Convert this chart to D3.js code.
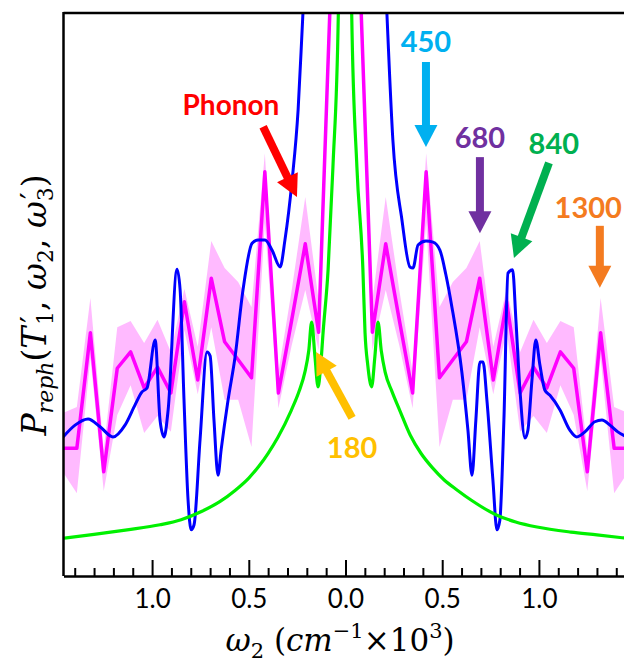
<!DOCTYPE html>
<html>
<head>
<meta charset="utf-8">
<script src="https://cdn.jsdelivr.net/npm/d3@7/dist/d3.min.js"></script>
<style>
  html, body { margin: 0; padding: 0; background: #fff; }
  svg { display: block; }
</style>
</head>
<body>
<svg id="chart" width="624" height="666"></svg>
<script>
// Frequency grid (ω2, units of 10^3 cm^-1) for the sampled rephasing spectrum
const omegaGrid = [-1.458, -1.389, -1.319, -1.250, -1.180, -1.111, -1.041, -0.972, -0.903, -0.833,
  -0.764, -0.694, -0.625, -0.555, -0.486, -0.417, -0.347, -0.278, -0.208, -0.139, -0.069, 0,
  0.069, 0.139, 0.208, 0.278, 0.347, 0.417, 0.486, 0.555, 0.625, 0.694, 0.764, 0.833, 0.903,
  0.972, 1.041, 1.111, 1.180, 1.250, 1.319, 1.389, 1.458];

// Mean rephasing signal (magenta) and its spread (shaded band)
const meanSignal = [22.7, 22.7, 43.2, 18.5, 36.9, 39.8, 33.4, 37.1, 32.5, 48.7, 34.8, 52.9, 41.6,
  38.4, 35.2, 71.8, 32.5, 45.5, 59.0, 43.3, 112, 150, 112, 43.3, 59.0, 45.5, 32.5, 71.8, 35.2, 38.4,
  41.6, 52.9, 34.8, 48.7, 32.5, 37.1, 33.4, 39.8, 36.9, 18.5, 43.2, 22.7, 22.7];
const bandUpper = [29.0, 30.0, 49.4, 22.4, 44.2, 45.3, 41.4, 45.5, 39.8, 51.0, 40.7, 59.5, 54.7,
  52.2, 47.8, 75.1, 36.2, 50.8, 67.3, 49.0, 118, 156, 118, 49.0, 67.3, 50.8, 36.2, 75.1, 47.8, 52.2,
  54.7, 59.5, 40.7, 51.0, 39.8, 45.5, 41.4, 45.3, 44.2, 22.4, 49.4, 30.0, 29.0];
const bandLower = [18.3, 14.7, 38.7, 15.1, 28.6, 33.9, 25.4, 28.4, 25.6, 43.7, 32.3, 44.2, 31.3,
  31.3, 22.9, 62.7, 29.8, 41.0, 50.8, 40.1, 106, 144, 106, 40.1, 50.8, 41.0, 29.8, 62.7, 22.9, 31.3,
  31.3, 44.2, 32.3, 43.7, 25.6, 28.4, 25.4, 33.9, 28.6, 15.1, 38.7, 14.7, 18.3];

// Blue spectrum: frequencies and amplitudes
const blueOmega = [-1.460, -1.398, -1.331, -1.269, -1.202, -1.140, -1.088, -1.052, -1.026, -0.984,
  -0.959, -0.938, -0.917, -0.871, -0.855, -0.835, -0.814, -0.798, -0.783, -0.752, -0.716, -0.700,
  -0.680, -0.659, -0.643, -0.607, -0.571, -0.530, -0.483, -0.452, -0.416, -0.380, -0.338, -0.313,
  -0.276, -0.245, -0.220, -0.194, 0,
  0.194, 0.214, 0.245, 0.292, 0.333, 0.349, 0.375, 0.416, 0.452, 0.488, 0.519, 0.550, 0.602, 0.633,
  0.654, 0.674, 0.695, 0.711, 0.731, 0.762, 0.783, 0.798, 0.819, 0.840, 0.864, 0.881, 0.902, 0.928,
  0.943, 0.964, 0.984, 1.005, 1.031, 1.057, 1.109, 1.160, 1.196, 1.238, 1.289, 1.326, 1.367, 1.408,
  1.455];
const blueValue = [24.7, 26.8, 27.9, 26.5, 24.7, 26.8, 30.4, 32.7, 33.4, 41.9,
  27.7, 24.7, 29.5, 54.5, 50.8, 31.3, 13.5, 8.2, 9.1, 24.2, 39.8, 39.1,
  27.7, 17.9, 22.4, 31.3, 38.9, 50.8, 59.1, 59.7, 59.7, 57.9, 54.9, 59.7,
  70.3, 82.8, 100, 116.5, 260,
  116.5, 100, 77.4, 63.2, 54.9, 54.7, 58.8, 59.5, 59.3, 57.9, 53.5, 47.8, 36.1, 25.9,
  17.9, 27.7, 38.0, 38.0, 31.3, 17.1, 8.2, 9.9, 27.7, 53.8, 54.4, 45.5, 33.0, 24.5,
  25.9, 34.8, 41.9, 37.5, 33.0, 32.1, 29.5, 25.9, 24.7, 25.6, 27.4, 27.7, 26.8, 25.6,
  24.7];

// Green spectrum: frequencies and amplitudes
const greenOmega = [-1.460, -1.300, -1.129, -0.959, -0.850, -0.742, -0.650, -0.571, -0.500, -0.450,
  -0.400, -0.350, -0.282, -0.240, -0.210, -0.190, -0.175, -0.158, -0.142, -0.128, -0.116, -0.090,
  -0.065, -0.037, 0,
  0.032, 0.059, 0.090, 0.101, 0.115, 0.135, 0.152, 0.168, 0.185, 0.205, 0.240, 0.282, 0.335, 0.390,
  0.450, 0.509, 0.580, 0.649, 0.783, 0.880, 0.990, 1.165, 1.300, 1.455];
const greenValue = [6.7, 7.4, 8.2, 9.1, 10.0, 11.5, 13.2, 15.2, 17.4, 19.4,
  21.8, 24.6, 29.3, 32.8, 36.2, 40.0, 45.1, 39.0, 33.6, 37.5, 43.2, 54.4,
  72.6, 100, 400,
  100, 72.6, 54.4, 43.2, 37.5, 33.6, 39.0, 45.1, 40.0, 36.2, 32.8, 29.3, 25.0, 21.8,
  19.2, 17.1, 15.2, 13.5, 10.8, 9.6, 8.7, 7.8, 7.3, 6.7];

// Axis ticks
const majorTicks = [-1.0, -0.5, 0.0, 0.5, 1.0];
const minorTicks = [-1.4, -1.3, -1.2, -1.1, -0.9, -0.8, -0.7, -0.6, -0.4, -0.3, -0.2, -0.1,
  0.1, 0.2, 0.3, 0.4, 0.6, 0.7, 0.8, 0.9, 1.1, 1.2, 1.3, 1.4];

// Peak annotations: label, colour, label anchor, arrow tail and tip (data units)
const annotations = [
  { label: "Phonon", color: "#ff0000", text: [-0.592, 81.9], tail: [-0.426, 79.8], tip: [-0.251, 67.3] },
  { label: "450", color: "#00b0f0", text: [0.416, 93.1], tail: [0.416, 91.3], tip: [0.416, 76.2] },
  { label: "680", color: "#7030a0", text: [0.695, 76.0], tail: [0.695, 74.4], tip: [0.695, 60.9] },
  { label: "840", color: "#00b050", text: [1.077, 74.9], tail: [1.052, 73.4], tip: [0.871, 56.5] },
  { label: "1300", color: "#f47b20", text: [1.255, 63.6], tail: [1.315, 62.2], tip: [1.315, 51.2] },
  { label: "180", color: "#ffc000", text: [0.034, 21.0], tail: [0.034, 28.1], tip: [-0.152, 39.8] }
];

const svg = d3.select("#chart");
const plotLeft = 63.5, plotRight = 627.5, plotTop = 13, plotBottom = 576;

const x = d3.scaleLinear().domain([-1.458, 1.458]).range([plotLeft, plotRight]);
const y = d3.scaleLinear().domain([0, 100]).range([plotBottom, plotTop]);

svg.append("defs").append("clipPath").attr("id", "plot-clip")
  .append("rect").attr("x", plotLeft).attr("y", plotTop)
  .attr("width", plotRight - plotLeft).attr("height", plotBottom - plotTop);

const plot = svg.append("g").attr("clip-path", "url(#plot-clip)");

// Spread band
const band = d3.area()
  .x((d, i) => x(omegaGrid[i]))
  .y0((d, i) => y(bandLower[i]))
  .y1((d, i) => y(bandUpper[i]));
plot.append("path").datum(omegaGrid).attr("d", band)
  .attr("fill", "#ff00ff").attr("fill-opacity", 0.27).attr("stroke", "none");

// Mean signal
plot.append("path").datum(omegaGrid)
  .attr("d", d3.line().x((d, i) => x(d)).y((d, i) => y(meanSignal[i])))
  .attr("fill", "none").attr("stroke", "#ff00ff").attr("stroke-width", 3.5)
  .attr("stroke-linejoin", "round");

// Blue spectrum
plot.append("path").datum(blueOmega)
  .attr("d", d3.line().curve(d3.curveMonotoneX).x(d => x(d)).y((d, i) => y(blueValue[i])))
  .attr("fill", "none").attr("stroke", "#0000ff").attr("stroke-width", 3)
  .attr("stroke-linejoin", "round");

// Green spectrum
plot.append("path").datum(greenOmega)
  .attr("d", d3.line().curve(d3.curveMonotoneX).x(d => x(d)).y((d, i) => y(greenValue[i])))
  .attr("fill", "none").attr("stroke", "#00f000").attr("stroke-width", 3.2)
  .attr("stroke-linejoin", "round");

// Frame: left and top borders
svg.append("line").attr("x1", plotLeft).attr("x2", plotLeft).attr("y1", plotTop - 1).attr("y2", plotBottom)
  .attr("stroke", "#000").attr("stroke-width", 2.5);
svg.append("line").attr("x1", plotLeft).attr("x2", 624).attr("y1", plotTop).attr("y2", plotTop)
  .attr("stroke", "#000").attr("stroke-width", 2.5);

// Bottom axis with inward major and minor ticks
const axisMajor = d3.axisBottom(x).tickValues(majorTicks).tickSize(-16).tickSizeOuter(0)
  .tickFormat(d => Math.abs(d).toFixed(1));
const gx = svg.append("g").attr("transform", `translate(0,${plotBottom})`).call(axisMajor);
gx.select(".domain").attr("stroke", "#000").attr("stroke-width", 2.5);
gx.selectAll(".tick line").attr("stroke", "#000").attr("stroke-width", 2);
gx.selectAll(".tick text")
  .attr("y", 32).attr("dy", 0)
  .attr("font-family", "Lato, 'Open Sans', sans-serif").attr("font-size", 26).attr("fill", "#000");

const axisMinor = d3.axisBottom(x).tickValues(minorTicks).tickSize(-8).tickSizeOuter(0)
  .tickFormat("");
const gm = svg.append("g").attr("transform", `translate(0,${plotBottom})`).call(axisMinor);
gm.select(".domain").remove();
gm.selectAll(".tick line").attr("stroke", "#000").attr("stroke-width", 2);

// Peak annotations
function drawArrow(g, tail, tip, color) {
  const x0 = x(tail[0]), y0 = y(tail[1]), x1 = x(tip[0]), y1 = y(tip[1]);
  const dx = x1 - x0, dy = y1 - y0, len = Math.hypot(dx, dy);
  const ux = dx / len, uy = dy / len, nx = -uy, ny = ux;
  const headL = 22, headW = 23;
  const bx = x1 - ux * headL, by = y1 - uy * headL;
  g.append("line").attr("x1", x0).attr("y1", y0).attr("x2", bx + ux * 2).attr("y2", by + uy * 2)
    .attr("stroke", color).attr("stroke-width", 8);
  g.append("polygon")
    .attr("points", [[x1, y1], [bx + nx * headW / 2, by + ny * headW / 2], [bx - nx * headW / 2, by - ny * headW / 2]]
      .map(p => p.join(",")).join(" "))
    .attr("fill", color);
}

const ann = svg.append("g");
annotations.forEach(a => {
  drawArrow(ann, a.tail, a.tip, a.color);
  ann.append("text")
    .attr("x", x(a.text[0])).attr("y", y(a.text[1]))
    .attr("text-anchor", "middle")
    .attr("font-family", "Lato, 'Open Sans', sans-serif").attr("font-weight", 700)
    .attr("font-size", a.label === "Phonon" ? 28 : 29)
    .attr("fill", a.color).text(a.label);
});

// Axis titles
const mathFont = "'DejaVu Serif', 'Liberation Serif', serif";

const xt = svg.append("text").attr("x", 340).attr("y", 651).attr("text-anchor", "middle")
  .attr("font-family", mathFont).attr("font-size", 31).attr("fill", "#000");
xt.append("tspan").attr("font-style", "italic").text("ω");
xt.append("tspan").attr("font-size", 21).attr("dy", 7).text("2");
xt.append("tspan").attr("dy", -7).text(" (");
xt.append("tspan").attr("font-style", "italic").text("cm");
xt.append("tspan").attr("font-size", 21).attr("dy", -13).text("−1");
xt.append("tspan").attr("dy", 13).text("×10");
xt.append("tspan").attr("font-size", 21).attr("dy", -13).text("3");
xt.append("tspan").attr("dy", 13).text(")");

const yt = svg.append("text").attr("transform", "translate(46,305) rotate(-90)")
  .attr("text-anchor", "middle")
  .attr("font-family", mathFont).attr("font-size", 33).attr("fill", "#000");
yt.append("tspan").attr("font-style", "italic").text("P");
yt.append("tspan").attr("font-style", "italic").attr("font-size", 22).attr("dy", 7).text("reph");
yt.append("tspan").attr("dy", -7).text("(");
yt.append("tspan").attr("font-style", "italic").text("T");
yt.append("tspan").attr("font-size", 30).attr("dy", -4).attr("dx", 4).text("′");
yt.append("tspan").attr("font-size", 22).attr("dy", 11).attr("dx", -9).text("1");
yt.append("tspan").attr("dy", -7).text(", ");
yt.append("tspan").attr("font-style", "italic").text("ω");
yt.append("tspan").attr("font-size", 22).attr("dy", 7).text("2");
yt.append("tspan").attr("dy", -7).text(", ");
yt.append("tspan").attr("font-style", "italic").text("ω");
yt.append("tspan").attr("font-size", 30).attr("dy", -4).attr("dx", 2).text("′");
yt.append("tspan").attr("font-size", 22).attr("dy", 11).attr("dx", -9).text("3");
yt.append("tspan").attr("dy", -7).text(")");
</script>
</body>
</html>
